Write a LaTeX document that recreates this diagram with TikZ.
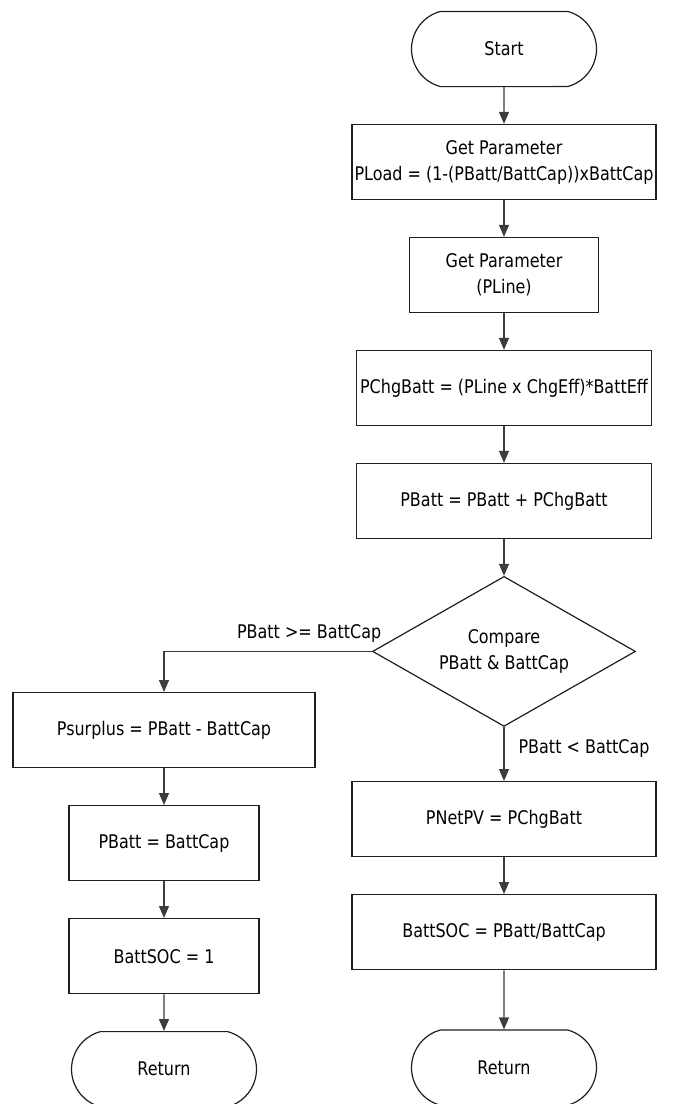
\documentclass[tikz,border=0pt]{standalone}
\usepackage{fontspec}
\setmainfont{DejaVu Sans}[FakeStretch=0.85]
\usetikzlibrary{arrows.meta,positioning,shapes.geometric,shapes.misc}
\definecolor{fcedge}{RGB}{30,30,30}
\definecolor{fcline}{RGB}{60,60,60}
\newcommand{\fcfont}{\fontsize{9.4pt}{13pt}\selectfont}
\tikzset{
  fcbox/.style={
    draw=fcedge, line width=0.6pt, align=center, inner sep=1pt,
    font=\fcfont, minimum height=37.6pt
  },
  proc/.style={fcbox, rectangle},
  term/.style={fcbox, rounded rectangle, rounded rectangle arc length=150, minimum width=94.5pt},
  decide/.style={fcbox, diamond, aspect=1.75, minimum width=131.5pt, minimum height=75pt, inner sep=0pt},
  arr/.style={-{Triangle[length=6pt,width=5pt]}, draw=fcline, line width=0.6pt},
  anno/.style={font=\fcfont, inner sep=1pt}
}
\begin{document}
\begin{tikzpicture}[x=0.5pt, y=-0.5pt, node distance=18.3pt]
  \useasboundingbox (0,0) rectangle (694,1104);

  % main column
  \node[term] (start) at (504,49) {Start};
  \node[proc, minimum width=152pt, below=of start] (getload) {Get Parameter\\PLoad = (1-(PBatt/BattCap))xBattCap};
  \node[proc, minimum width=94.5pt, below=of getload] (getline) {Get Parameter\\(PLine)};
  \node[proc, minimum width=147.5pt, below=of getline] (chg) {PChgBatt = (PLine x ChgEff)*BattEff};
  \node[proc, minimum width=147.5pt, below=of chg] (add) {PBatt = PBatt + PChgBatt};
  \node[decide, below=of add] (comp) {Compare\\PBatt \& BattCap};

  % PBatt >= BattCap
  \node[proc, minimum width=151pt, anchor=north] (surplus) at (164,692) {Psurplus = PBatt - BattCap};
  \node[proc, minimum width=95pt, below=of surplus] (cap) {PBatt = BattCap};
  \node[proc, minimum width=95pt, below=of cap] (socfull) {BattSOC = 1};
  \node[term, below=of socfull] (retl) {Return};

  % PBatt < BattCap
  \node[proc, minimum width=152pt, below=27pt of comp] (netpv) {PNetPV = PChgBatt};
  \node[proc, minimum width=152pt, below=of netpv] (soc) {BattSOC = PBatt/BattCap};
  \node[term, below=29.5pt of soc] (retr) {Return};

  \draw[arr] (start) -- (getload);
  \draw[arr] (getload) -- (getline);
  \draw[arr] (getline) -- (chg);
  \draw[arr] (chg) -- (add);
  \draw[arr] (add) -- (comp);
  \draw[arr] (comp.west) -| node[anno, pos=0, anchor=south east, xshift=6pt, yshift=3pt] {PBatt >= BattCap} (surplus.north);
  \draw[arr] (surplus) -- (cap);
  \draw[arr] (cap) -- (socfull);
  \draw[arr] (socfull) -- (retl);
  \draw[arr] (comp.south) -- node[anno, pos=0.4, anchor=west, xshift=6pt] {PBatt < BattCap} (netpv.north);
  \draw[arr] (netpv) -- (soc);
  \draw[arr] (soc) -- (retr);
\end{tikzpicture}
\end{document}
